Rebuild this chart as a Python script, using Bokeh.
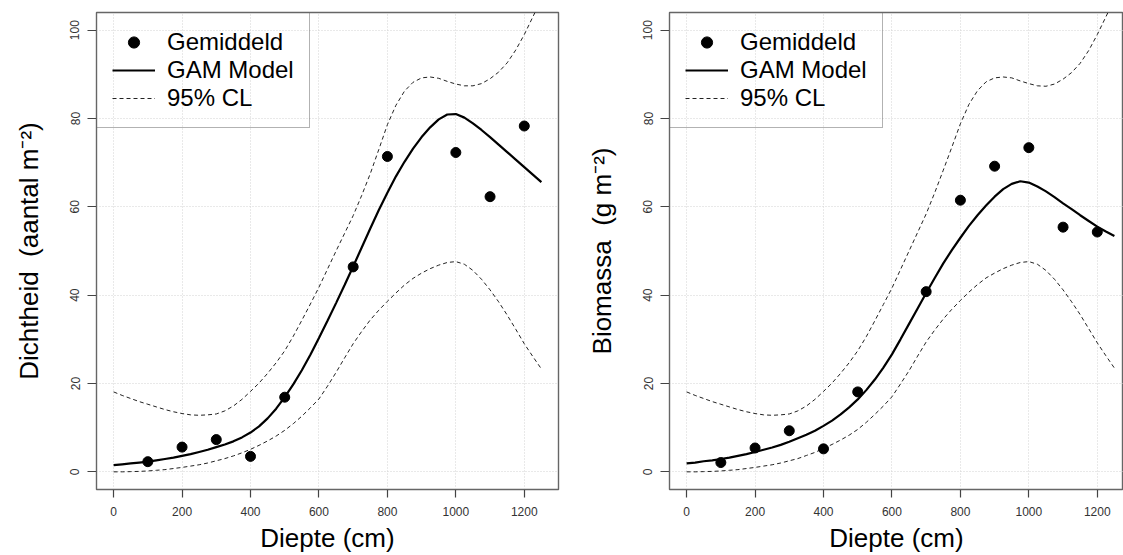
from bokeh.plotting import figure
from bokeh.layouts import row
from bokeh.models import FixedTicker, Range1d, Legend, LegendItem
from bokeh.embed import file_html
from bokeh.resources import INLINE

FONT = "Liberation Sans"

# Observed means per depth class (cm)
dens_depth = [100, 200, 300, 400, 500, 700, 800, 1000, 1100, 1200]
dens_mean = [2.3, 5.6, 7.3, 3.5, 16.9, 46.4, 71.4, 72.3, 62.3, 78.3]

bio_depth = [100, 200, 300, 400, 500, 700, 800, 900, 1000, 1100, 1200]
bio_mean = [2.1, 5.4, 9.3, 5.2, 18.1, 40.8, 61.5, 69.2, 73.4, 55.4, 54.3]

# GAM prediction grid (cm), 25 cm steps
pred_depth = [0, 25, 50, 75, 100, 125, 150, 175, 200, 225, 250, 275, 300,
              325, 350, 375, 400, 425, 450, 475, 500, 525, 550, 575, 600,
              625, 650, 675, 700, 725, 750, 775, 800, 825, 850, 875, 900,
              925, 950, 975, 1000, 1025, 1050, 1075, 1100, 1125, 1150, 1175,
              1200, 1225, 1250]

dens_fit = [1.5, 1.7, 1.9, 2.1, 2.3, 2.6, 2.9, 3.2, 3.6, 4.0, 4.5, 5.0, 5.6,
            6.2, 6.9, 7.8, 8.9, 10.3, 12.1, 14.3, 16.9, 19.8, 23.0, 26.5, 30.3,
            34.2, 38.2, 42.3, 46.5, 50.8, 55.1, 59.3, 63.2, 66.9, 70.2, 73.2, 75.8,
            78.0, 79.8, 80.9, 81.0, 80.2, 78.9, 77.4, 75.8, 74.1, 72.4, 70.7,
            69.0, 67.3, 65.6]
dens_upper = [18.1, 17.3, 16.6, 15.9, 15.3, 14.7, 14.1, 13.6, 13.2, 12.9, 12.8, 12.9, 13.1,
              13.8, 14.9, 16.4, 18.2, 20.1, 22.3, 24.7, 27.4, 30.7, 34.3, 38.0, 41.8,
              45.9, 50.0, 54.0, 58.0, 62.6, 67.5, 73.0, 78.6, 83.0, 86.2, 88.2, 89.2,
              89.4, 89.1, 88.4, 87.8, 87.4, 87.4, 87.9, 89.0, 90.5, 92.6, 95.5,
              99.0, 103.0, 107.0]
dens_lower = [0.0, 0.0, 0.05, 0.1, 0.2, 0.35, 0.5, 0.75, 1.0, 1.3, 1.6, 2.0, 2.5,
              3.0, 3.6, 4.3, 5.1, 6.0, 7.0, 8.1, 9.4, 10.9, 12.6, 14.5, 16.5,
              19.4, 22.5, 25.8, 29.0, 31.8, 34.4, 36.6, 38.6, 40.5, 42.3, 43.8, 45.0,
              46.0, 46.8, 47.4, 47.6, 47.0, 45.6, 43.6, 41.2, 38.5, 35.5, 32.3,
              29.0, 26.1, 23.3]

bio_fit = [1.9, 2.1, 2.4, 2.6, 2.9, 3.2, 3.6, 4.0, 4.5, 5.0, 5.5, 6.1, 6.8,
           7.6, 8.4, 9.3, 10.4, 11.6, 13.0, 14.6, 16.4, 18.5, 20.9, 23.6, 26.6,
           30.0, 33.5, 37.0, 40.5, 43.9, 47.2, 50.2, 53.0, 55.7, 58.1, 60.3, 62.3,
           64.0, 65.2, 65.8, 65.5, 64.6, 63.5, 62.2, 60.8, 59.5, 58.1, 56.8,
           55.5, 54.4, 53.4]
bio_upper = [18.1, 17.3, 16.6, 15.9, 15.3, 14.7, 14.1, 13.6, 13.2, 12.9, 12.8, 12.9, 13.1,
             13.8, 14.9, 16.4, 18.2, 20.1, 22.3, 24.7, 27.4, 30.6, 34.2, 37.9, 41.6,
             45.8, 50.0, 54.2, 58.4, 63.2, 68.3, 73.5, 78.8, 83.2, 86.3, 88.3, 89.2,
             89.4, 89.2, 88.5, 87.9, 87.4, 87.3, 87.8, 88.9, 90.4, 92.5, 95.4,
             99.0, 103.0, 107.0]
bio_lower = [0.0, 0.0, 0.05, 0.1, 0.2, 0.35, 0.5, 0.75, 1.0, 1.3, 1.6, 2.0, 2.5,
             3.0, 3.7, 4.4, 5.3, 6.2, 7.2, 8.3, 9.6, 11.2, 13.0, 14.9, 17.0,
             19.9, 22.9, 26.2, 29.4, 32.1, 34.6, 36.8, 38.8, 40.7, 42.4, 43.9, 45.0,
             46.0, 46.8, 47.4, 47.6, 47.0, 45.6, 43.6, 41.2, 38.5, 35.6, 32.4,
             29.2, 26.3, 23.5]

x_ticks = [0, 200, 400, 600, 800, 1000, 1200]
y_ticks = [0, 20, 40, 60, 80, 100]


def panel(width, border_left, border_right, x_end, ylabel,
          depth, mean, fit, upper, lower):
    p = figure(width=width, height=555, output_backend="svg", toolbar_location=None,
               x_range=Range1d(-50, x_end), y_range=Range1d(-4, 104),
               min_border_left=border_left, min_border_right=border_right,
               min_border_top=12, min_border_bottom=65)
    p.background_fill_color = "white"
    p.border_fill_color = "white"
    p.outline_line_color = "#666666"
    p.outline_line_width = 1.4

    # dotted reference grid
    for g in (p.xgrid, p.ygrid):
        g.grid_line_color = "#d3d3d3"
        g.grid_line_dash = "1 2"
        g.grid_line_width = 1
    p.xgrid.ticker = FixedTicker(ticks=x_ticks)
    p.ygrid.ticker = FixedTicker(ticks=y_ticks)

    for ax in (p.xaxis[0], p.yaxis[0]):
        ax.axis_line_color = None
        ax.major_tick_line_color = "#444444"
        ax.major_tick_line_width = 1.2
        ax.major_tick_in = 0
        ax.minor_tick_line_color = None
        ax.major_label_text_font = FONT
        ax.major_label_text_font_size = "12px"
        ax.major_label_text_color = "#333333"
        ax.axis_label_text_font = FONT
        ax.axis_label_text_font_size = "26px"
        ax.axis_label_text_font_style = "normal"
        ax.axis_label_text_color = "black"

    xa = p.xaxis[0]
    xa.ticker = FixedTicker(ticks=x_ticks)
    xa.major_tick_out = 8
    xa.major_label_standoff = 9
    xa.axis_label = "Diepte (cm)"
    xa.axis_label_standoff = 4

    ya = p.yaxis[0]
    ya.ticker = FixedTicker(ticks=y_ticks)
    ya.major_tick_out = 9
    ya.major_label_orientation = "vertical"
    ya.major_label_standoff = 8
    ya.axis_label = ylabel
    ya.axis_label_standoff = 24

    up = p.line(pred_depth, upper, line_color="#222222", line_width=1, line_dash="4 3")
    p.line(pred_depth, lower, line_color="#222222", line_width=1, line_dash="4 3")
    gam = p.line(pred_depth, fit, line_color="black", line_width=2.2)
    pts = p.scatter(depth, mean, size=10, marker="circle",
                    fill_color="black", line_color="black")

    legend = Legend(items=[LegendItem(label="Gemiddeld", renderers=[pts]),
                           LegendItem(label="GAM Model", renderers=[gam]),
                           LegendItem(label="95% CL", renderers=[up])],
                    location="top_left", margin=0, padding=15, spacing=0,
                    label_height=28, glyph_height=28, glyph_width=43,
                    label_standoff=12,
                    label_text_font=FONT, label_text_font_size="24px",
                    label_text_color="black",
                    border_line_color="#666666", border_line_width=1.4,
                    background_fill_alpha=0)
    p.add_layout(legend)
    return p


left = panel(580, 96, 22, 1300, "Dichtheid\u00a0\u00a0(aantal m\u207b\u00b2)",
             dens_depth, dens_mean, dens_fit, dens_upper, dens_lower)
right = panel(543, 89, 0, 1276.6, "Biomassa\u00a0\u00a0(g m\u207b\u00b2)",
              bio_depth, bio_mean, bio_fit, bio_upper, bio_lower)

layout = row(left, right)
open("out.html", "w").write(file_html(layout, INLINE))
